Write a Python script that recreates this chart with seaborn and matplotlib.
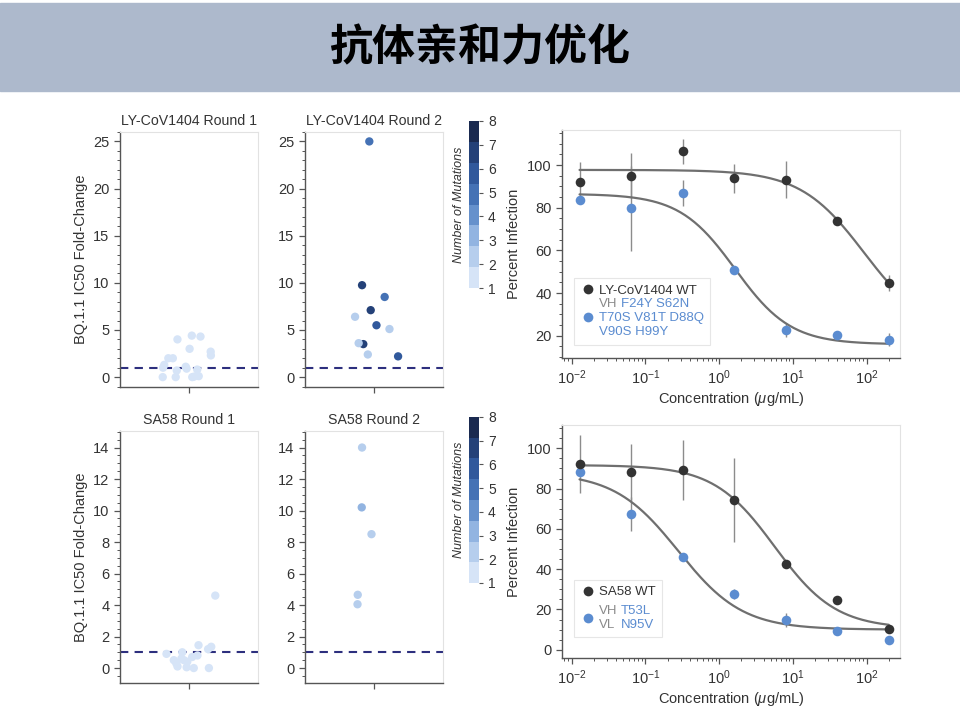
import numpy as np
import pandas as pd
import seaborn as sns
import matplotlib.pyplot as plt
from matplotlib.colors import ListedColormap, Normalize
from matplotlib.cm import ScalarMappable
from matplotlib.patches import Rectangle
from matplotlib.lines import Line2D
from matplotlib.ticker import MultipleLocator, AutoMinorLocator

# ---- strip panels: BQ.1.1 IC50 fold-change per variant, colored by number of mutations
ly_r1_fold = [4.4, 4.3, 4.0, 3.0, 2.7, 2.3, 2.0, 2.0, 1.3, 1.1, 1.0, 0.9, 0.8, 0.7, 0.1, 0.05, 0.0, 0.0, 0.0]
ly_r1_mut = [1, 1, 1, 1, 1, 1, 1, 1, 1, 1, 1, 1, 1, 1, 1, 1, 1, 1, 1]
ly_r2_fold = [25.0, 9.75, 8.5, 7.1, 6.4, 5.5, 5.1, 3.5, 3.6, 2.4, 2.2]
ly_r2_mut = [5, 7, 5, 7, 2, 6, 2, 7, 2, 2, 6]
sa_r1_fold = [4.6, 1.45, 1.35, 1.2, 1.0, 0.9, 0.8, 0.7, 0.6, 0.5, 0.5, 0.4, 0.3, 0.1, 0.05, 0.0, 0.0]
sa_r1_mut = [1, 1, 1, 1, 1, 1, 1, 1, 1, 1, 1, 1, 1, 1, 1, 1, 1]
sa_r2_fold = [14.0, 10.2, 8.5, 4.65, 4.05]
sa_r2_mut = [2, 3, 2, 2, 2]

# ---- neutralization curves (5-fold dilutions)
conc = [0.0128, 0.064, 0.32, 1.6, 8, 40, 200]
ly_wt = [92.2, 95.0, 106.4, 93.9, 93.1, 74.0, 44.8]
ly_wt_err = [9.0, 10.5, 5.7, 6.8, 8.6, 1.0, 3.9]
ly_mt = [83.6, 79.7, 86.9, 50.9, 22.8, 20.2, 18.1]
ly_mt_err = [1.0, 20.0, 5.9, 1.0, 3.3, 1.5, 3.0]
sa_wt = [92.2, 88.4, 89.3, 74.4, 42.6, 24.8, 10.4]
sa_wt_err = [14.3, 14.0, 15.0, 21.0, 2.0, 1.0, 1.5]
sa_mt = [88.4, 67.4, 46.0, 27.8, 14.9, 9.1, 5.0]
sa_mt_err = [2.0, 8.5, 1.5, 2.5, 3.5, 1.5, 1.5]
# 4PL fit parameters: top, bottom, IC50, hill
ly_wt_fit = [97.7, 20.0, 93.0, 1.0]
ly_mt_fit = [86.5, 16.0, 1.65, 1.15]
sa_wt_fit = [91.7, 10.5, 5.7, 1.05]
sa_mt_fit = [88.0, 10.0, 0.28, 1.0]

# legend text: (gray part, blue part) per line
ly_mt_lines = [('VH', 'F24Y S62N'), ('', 'T70S V81T D88Q'), ('', 'V90S H99Y')]
sa_mt_lines = [('VH', 'T53L'), ('VL', 'N95V')]

np.random.seed(3)  # stripplot jitter

sns.set_theme(style='ticks')
plt.rcParams['font.family'] = ['Liberation Sans', 'DejaVu Sans']
plt.rcParams['mathtext.fontset'] = 'custom'
plt.rcParams['mathtext.rm'] = 'Liberation Sans'
plt.rcParams['mathtext.it'] = 'Liberation Sans:italic'
plt.rcParams['axes.edgecolor'] = '#555555'
plt.rcParams['text.color'] = '#333333'
plt.rcParams['axes.labelcolor'] = '#333333'
plt.rcParams['xtick.color'] = '#555555'
plt.rcParams['ytick.color'] = '#555555'
plt.rcParams['xtick.labelcolor'] = '#333333'
plt.rcParams['ytick.labelcolor'] = '#333333'

W, H = 960, 713
fig = plt.figure(figsize=(9.6, 7.13), dpi=100)

GRAY_TXT = '#8a8a8a'
BLUE = '#5b8cd0'


def rect(x0, y0, x1, y1):
    return [x0 / W, 1 - y1 / H, (x1 - x0) / W, (y1 - y0) / H]


# header band
fig.add_artist(Rectangle((0, 1 - 91 / H), 1, 88 / H, transform=fig.transFigure,
                         color='#adb9cc', zorder=0))
fig.text(0.5, 1 - 47 / H, '抗体亲和力优化', ha='center', va='center', fontsize=31,
         fontweight='bold', color='black', family=['Noto Sans CJK SC', 'DejaVu Sans'])

cmap = ListedColormap(sns.blend_palette(['#d6e4f7', '#9dbde6', '#4f7fc2', '#2c5296', '#1a2a50'], 8))
norm = Normalize(1, 8)


def style_frame(ax):
    for s in ['top', 'right']:
        ax.spines[s].set_color('#e2e2e2')
        ax.spines[s].set_linewidth(0.8)
    for s in ['left', 'bottom']:
        ax.spines[s].set_color('#555555')
        ax.spines[s].set_linewidth(1.0)
    ax.tick_params(which='major', length=4, width=0.9, labelsize=10.5, direction='out')
    ax.tick_params(which='minor', length=2, width=0.7, direction='out')
    ax.tick_params(top=False, right=False, which='both')


def strip_panel(ax, fold, mut, title, ylim, major, minor, ylabel):
    df = pd.DataFrame({'grp': ['a'] * len(fold), 'fold': fold, 'mut': mut})
    pal = {m: cmap(norm(m)) for m in sorted(set(mut))}
    sns.stripplot(data=df, x='grp', y='fold', hue='mut', palette=pal, jitter=0.2,
                  size=6, linewidth=0, legend=False, ax=ax, zorder=3)
    ax.axhline(1, color='#2d2f7e', ls=(0, (4, 3)), lw=1.5, zorder=2)
    ax.set_ylim(*ylim)
    ax.set_xlim(-0.5, 0.5)
    ax.yaxis.set_major_locator(MultipleLocator(major))
    ax.yaxis.set_minor_locator(MultipleLocator(minor))
    ax.set_xticks([0])
    ax.set_xticklabels([''])
    ax.set_xlabel('')
    ax.set_ylabel(ylabel, fontsize=10.5)
    ax.set_title(title, fontsize=10.2, pad=5)
    style_frame(ax)


def colorbar(cax):
    cb = fig.colorbar(ScalarMappable(norm=norm, cmap=cmap), cax=cax, ticks=range(1, 9))
    cb.outline.set_visible(False)
    cax.tick_params(labelsize=10, length=3, width=0.8, colors='#555555', labelcolor='#333333')
    cax.yaxis.set_label_position('left')
    cax.set_ylabel('Number of Mutations', style='italic', fontsize=9, labelpad=3)


def four_pl(x, p):
    top, bottom, ic50, hill = p
    return bottom + (top - bottom) / (1 + (x / ic50) ** hill)


def dose_panel(ax, wt, wt_err, mt, mt_err, wt_fit, mt_fit, wt_label, mt_lines, ylim, leg_y):
    xs = np.logspace(np.log10(conc[0]), np.log10(conc[-1]), 200)
    for p in [wt_fit, mt_fit]:
        sns.lineplot(x=xs, y=four_pl(xs, p), color='#6f6f6f', lw=1.6, ax=ax, zorder=2)
    ax.errorbar(conc, wt, yerr=wt_err, fmt='none', ecolor='#8c8c8c', elinewidth=1, zorder=1)
    ax.errorbar(conc, mt, yerr=mt_err, fmt='none', ecolor='#8c8c8c', elinewidth=1, zorder=1)
    sns.scatterplot(x=conc, y=wt, color='#333333', s=48, linewidth=0, ax=ax, zorder=4)
    sns.scatterplot(x=conc, y=mt, color=BLUE, s=48, linewidth=0, ax=ax, zorder=3)
    ax.set_xscale('log')
    ax.set_xlim(0.0074, 284)
    ax.set_ylim(*ylim)
    ax.yaxis.set_major_locator(MultipleLocator(20))
    ax.yaxis.set_minor_locator(AutoMinorLocator(4))
    ax.set_xlabel('Concentration ($\\mu$g/mL)', fontsize=10.5, labelpad=2)
    ax.set_ylabel('Percent Infection', fontsize=10.5)
    style_frame(ax)

    dot = dict(marker='o', linestyle='none', markersize=7, markeredgewidth=0)
    h_wt = Line2D([], [], color='#333333', **dot)
    h_mt = Line2D([], [], color=BLUE, **dot)
    h_none = Line2D([], [], linestyle='none', marker=None)
    handles, labels, colors, tails = [h_wt], [wt_label], ['#333333'], [None]
    if len(mt_lines) == 3:
        # one legend row per line, the dot sits on the middle row
        for i, (g, b) in enumerate(mt_lines):
            handles.append(h_mt if i == 1 else h_none)
            labels.append(g if g else b)
            colors.append(GRAY_TXT if g else BLUE)
            tails.append(b if g else None)
        spacing = 0.12
    else:
        # gray prefixes in one two-line entry, blue names annotated beside it
        handles.append(h_mt)
        labels.append('\n'.join(g for g, _ in mt_lines))
        colors.append(GRAY_TXT)
        tails.append('\n'.join(b for _, b in mt_lines))
        spacing = 0.5
    leg = ax.legend(handles, labels, loc='lower left', bbox_to_anchor=(0.015, leg_y),
                    fontsize=9.5, frameon=True, fancybox=False, edgecolor='#e0e0e0',
                    handletextpad=0.2, borderpad=0.5, labelspacing=spacing,
                    handlelength=1.2)
    leg.get_frame().set_linewidth(0.8)
    for t, c, tail in zip(leg.get_texts(), colors, tails):
        t.set_color(c)
        if tail:
            ax.annotate(tail, xy=(1, 0.5), xycoords=t, xytext=(2.6, 0),
                        textcoords='offset points', ha='left', va='center',
                        fontsize=9.5, color=BLUE, zorder=10, annotation_clip=False)


ax1 = fig.add_axes(rect(120, 132, 258, 387))
strip_panel(ax1, ly_r1_fold, ly_r1_mut, 'LY-CoV1404 Round 1', (-1.05, 26), 5, 1,
            'BQ.1.1 IC50 Fold-Change')
ax2 = fig.add_axes(rect(305, 132, 443, 387))
strip_panel(ax2, ly_r2_fold, ly_r2_mut, 'LY-CoV1404 Round 2', (-1.05, 26), 5, 1, '')
colorbar(fig.add_axes(rect(469, 121, 479, 288)))

ax4 = fig.add_axes(rect(120, 431, 258, 683))
strip_panel(ax4, sa_r1_fold, sa_r1_mut, 'SA58 Round 1', (-0.95, 15.05), 2, 0.5,
            'BQ.1.1 IC50 Fold-Change')
ax5 = fig.add_axes(rect(305, 431, 443, 683))
strip_panel(ax5, sa_r2_fold, sa_r2_mut, 'SA58 Round 2', (-0.95, 15.05), 2, 0.5, '')
colorbar(fig.add_axes(rect(469, 417, 479, 583)))

ax3 = fig.add_axes(rect(562, 130, 900, 358))
dose_panel(ax3, ly_wt, ly_wt_err, ly_mt, ly_mt_err, ly_wt_fit, ly_mt_fit,
           'LY-CoV1404 WT', ly_mt_lines, (9.6, 116.4), 0.03)
ax6 = fig.add_axes(rect(562, 425, 900, 658))
dose_panel(ax6, sa_wt, sa_wt_err, sa_mt, sa_mt_err, sa_wt_fit, sa_mt_fit,
           'SA58 WT', sa_mt_lines, (-4.1, 111.6), 0.06)

fig.savefig('out.png', dpi=100, facecolor='white')
